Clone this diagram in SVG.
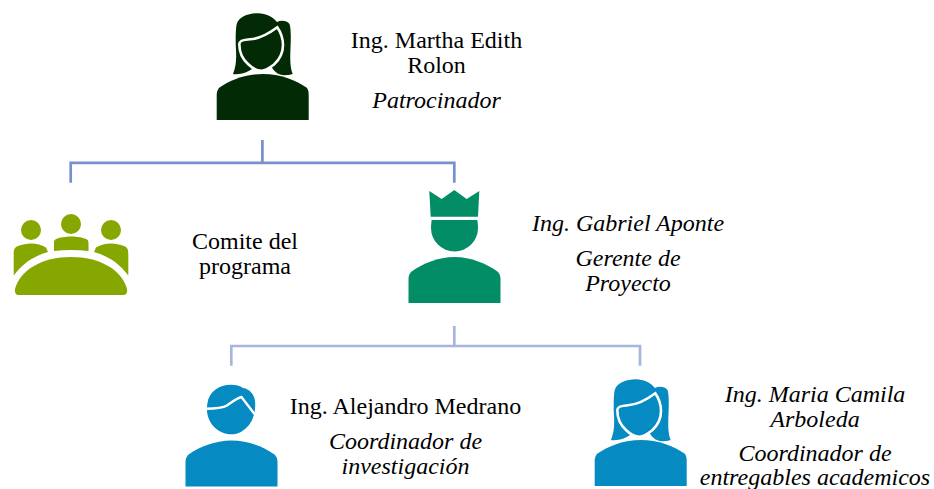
<svg xmlns="http://www.w3.org/2000/svg" width="934" height="489" viewBox="0 0 934 489">
<style>
text{font-family:"Liberation Serif","Times New Roman",serif;font-size:24px;fill:#000;text-anchor:middle}
.i{font-style:italic}
.c1{fill:none;stroke:#7a90cc;stroke-width:2.7}
.c2{fill:none;stroke:#a6b5de;stroke-width:2.7}
.f{stroke:#fff;stroke-width:2.6}
</style>
<defs>
<g id="woman">
<path d="M233 74C236 66 236.500 60 236 50C235.500 42 235.500 30 236.700 24C239 17 248 13.300 258 13.300C266 13.300 273 17 277 22C281 20 287 20.500 289.500 24C291 28 291 38 290.500 48C290 58 290 68 292.700 74C288 75.500 283 75.500 280 74.500C276 73 273 70 271.700 66.700L252.700 68.300C249 72 240 75 233 74Z"/>
<path class="f" d="M239.300 44C239.300 41 243 39.700 250 39.300C259 38.800 267 35 277.300 27.300C280.500 32 283 38 283 45C283 54 279 60 274 64.500C270 67.500 265 70.700 261.700 70.700C257 70.700 252 68 248 64C243 59.500 239.300 52 239.300 44Z"/>
<path d="M216.700 120V95C216.700 91 218 89 220 87.300C230 80 246 74 263 74C280 74 296 80 306 87.300C308 89 308.700 91 308.700 95V120Z"/>
</g>
</defs>
<g id="connectors">
<path class="c1" d="M262.400 140V162.800M70.700 182.700V162.800H454.300V182.700"/>
<path class="c2" d="M454.300 326V346M231.300 365.700V346H640V365.700"/>
</g>
<g id="node-patrocinador" fill="#022b05">
<use href="#woman"/>
<text x="436.500" y="48">Ing. Martha Edith</text>
<text x="436.500" y="73">Rolon</text>
<text x="436.500" y="108" class="i">Patrocinador</text>
</g>
<g id="node-comite" fill="#86a600">
<circle cx="31" cy="230" r="10"/>
<circle cx="71" cy="224" r="10"/>
<circle cx="111" cy="230" r="10"/>
<path d="M13.700 275.500V254C13.700 249 15 247 18 246C27 242.500 38 242.500 46 247.500L48 252C34 256 23 263 13.700 275.500Z"/>
<path d="M54 251V243C54 239 56 239 59 238C67 236 76 236 83 238C87 239 88.500 240 88.500 243V251C77 249.500 65 249.500 54 251Z"/>
<path d="M128.300 275.500V254C128.300 249 127 247 124 246C115 242.500 104 242.500 96 247.500L94 252C108 256 119 263 128.300 275.500Z"/>
<path d="M15 289C20 270 42 257 71 257C100 257 122 270 127 289C127.500 293 126 295 123 295H19C16 295 14.500 293 15 289Z"/>
<text x="245" y="249">Comite del</text>
<text x="245" y="274">programa</text>
</g>
<g id="node-gerente" fill="#038d66">
<path d="M429.300 191L441.700 199L454.300 190L466.700 199L479.300 191L478 216.700H430.700Z"/>
<path d="M431.700 220H477.300Q478 224 478 228A23.500 23.500 0 0 1 431 228Q431 224 431.700 220Z"/>
<path d="M408.500 303V279C408.500 275 410 273 412 271.300C422 264 438 257 454.500 257C471 257 487 264 497 271.300C499 273 500.500 275 500.500 279V303Z"/>
<text x="628" y="231" class="i">Ing. Gabriel Aponte</text>
<text x="628" y="266" class="i">Gerente de</text>
<text x="628" y="291" class="i">Proyecto</text>
</g>
<g id="node-medrano" fill="#058ac2">
<path d="M207.500 403C209 392 219 384.800 231 384.800C236 384.800 240 386 243 388C250 389 255 395 255.200 403C255.500 412 253 420 249 425C244 431 238 434.300 231.500 434.300C218 434.300 207 423 207 409.500C207 407 207 405 207.500 403Z"/>
<path fill="none" stroke="#fff" stroke-width="2.400" d="M205.500 408.700C214 408.700 222 408.500 227 405.500C232 402 237 398 241.500 397L254.500 414"/>
<path d="M185.500 486.500V462C185.500 458 187 456 189 454.300C199 447 215 440.500 231.500 440.500C248 440.500 264 447 274 454.300C276 456 277.500 458 277.500 462V486.500Z"/>
<text x="405.500" y="414">Ing. Alejandro Medrano</text>
<text x="405.500" y="449" class="i">Coordinador de</text>
<text x="405.500" y="474" class="i">investigación</text>
</g>
<g id="node-arboleda" fill="#058ac2">
<use href="#woman" transform="translate(378 366)"/>
<text x="815" y="402" class="i">Ing. Maria Camila</text>
<text x="815" y="427" class="i">Arboleda</text>
<text x="815" y="461" class="i">Coordinador de</text>
<text x="815" y="485" class="i">entregables academicos</text>
</g>
</svg>
